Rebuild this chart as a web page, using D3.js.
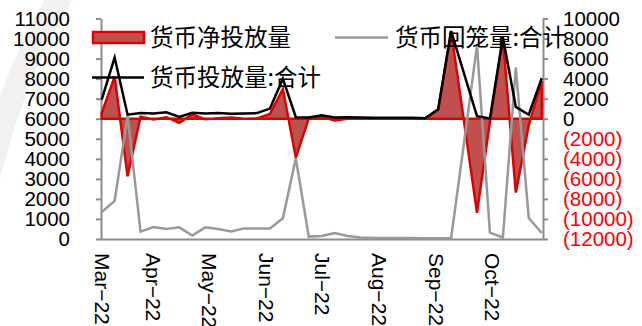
<!DOCTYPE html>
<html>
<head>
<meta charset="utf-8">
<script src="https://cdn.jsdelivr.net/npm/d3@7"></script>
<style>
  html, body { margin: 0; padding: 0; background: #fff; }
  svg { display: block; }
</style>
</head>
<body>
<svg id="chart" width="642" height="326"></svg>
<script>
// Weekly open-market figures (亿元)
const dates = [
  "2022-03-04","2022-03-11","2022-03-18","2022-03-25","2022-04-01","2022-04-08","2022-04-15",
  "2022-04-22","2022-04-29","2022-05-06","2022-05-13","2022-05-20","2022-05-27","2022-06-03",
  "2022-06-10","2022-06-17","2022-06-24","2022-07-01","2022-07-08","2022-07-15","2022-07-22",
  "2022-07-29","2022-08-05","2022-08-12","2022-08-19","2022-08-26","2022-09-02","2022-09-09",
  "2022-09-16","2022-09-23","2022-09-30","2022-10-07","2022-10-14","2022-10-21","2022-10-28"
];
// 货币投放量:合计 (right axis)
const injection = [
  1900, 6100, 400, 580, 520, 650, 180, 600, 520, 560, 500, 520, 560, 1015,
  4000, 150, 120, 350, 120, 150, 120, 100, 100, 100, 100, 50, 950, 8750,
  4500, 250, 30, 8130, 1180, 400, 4050
];
// 货币回笼量:合计 (left axis)
const withdrawal = [
  1350, 1900, 6150, 370, 600, 500, 580, 170, 580, 500, 370, 530, 530, 530,
  1030, 4030, 120, 150, 300, 150, 70, 50, 50, 50, 50, 40, 40, 40,
  4800, 9650, 320, 80, 8550, 1050, 300
];
// 货币净投放量 (right axis)
const netInjection = [
  550, 4200, -5750, 210, -80, 150, -400, 430, -60, 60, 130, -10, 30, 485,
  2970, -3880, 0, 200, -180, 0, 50, 50, 50, 50, 50, 10, 910, 8710,
  -300, -9400, -290, 8050, -7370, -650, 3750
];

const leftTicks = [0, 1000, 2000, 3000, 4000, 5000, 6000, 7000, 8000, 9000, 10000, 11000];
const rightTicks = [10000, 8000, 6000, 4000, 2000, 0, -2000, -4000, -6000, -8000, -10000, -12000];
// month labels: the axis start, then each month start
const monthTicks = ["2022-03-04","2022-04-01","2022-05-01","2022-06-01","2022-07-01","2022-08-01","2022-09-01","2022-10-01"];

const seriesNames = ["货币净投放量", "货币回笼量:合计", "货币投放量:合计"];

const parse = d3.timeParse("%Y-%m-%d");
const points = dates.map((d, i) => ({
  date: parse(d),
  inj: injection[i],
  wd: withdrawal[i],
  net: netInjection[i]
}));

const svg = d3.select("#chart");
const numFont = "'Liberation Sans', Arial, sans-serif";
const cjkFont = "'Noto Sans CJK SC', 'Noto Sans', sans-serif";

const plot = { left: 101, right: 543, top: 18.5, bottom: 239 };

// faint background mark in the upper-left corner
svg.append("path")
  .attr("d", "M -12,178 Q 14,70 66,-12")
  .attr("fill", "none")
  .attr("stroke", "#f1f1f1")
  .attr("stroke-width", 24);

const x = d3.scaleTime()
  .domain(d3.extent(points, d => d.date))
  .range([plot.left + 0.7, plot.right - 1.3]);
const yL = d3.scaleLinear().domain([0, 11000]).range([plot.bottom, plot.top]);
const yR = d3.scaleLinear().domain([-12000, 10000]).range([plot.bottom, plot.top]);

const axisColor = "#8c8c8c";
const plain = d3.format("d");

// x axis
const fmtMon = d3.timeFormat("%b"), fmtYr = d3.timeFormat("%y");
const gx = svg.append("g")
  .attr("transform", `translate(0,${plot.bottom})`)
  .call(d3.axisBottom(x)
    .tickValues(monthTicks.map(parse))
    .tickSize(0)
    .tickFormat(d => fmtMon(d) + "\u2212" + fmtYr(d)));
gx.select(".domain").attr("stroke", axisColor).attr("stroke-width", 2)
  .attr("d", `M${plot.left},0.5H${plot.right}`);
gx.selectAll(".tick text")
  .attr("font-family", numFont)
  .attr("font-size", 21)
  .attr("fill", "#000")
  .attr("text-anchor", "start")
  .attr("transform", "translate(0,14) rotate(90)")
  .attr("x", 0).attr("y", 0).attr("dy", "0.36em");

// left axis
const gl = svg.append("g")
  .attr("transform", `translate(${plot.left},0)`)
  .call(d3.axisLeft(yL).tickValues(leftTicks).tickSize(5).tickPadding(26).tickSizeOuter(0)
    .tickFormat(plain));
gl.select(".domain").attr("stroke", axisColor).attr("stroke-width", 2);
gl.selectAll(".tick line").attr("stroke", axisColor).attr("stroke-width", 2);
gl.selectAll(".tick text")
  .attr("font-family", numFont).attr("font-size", 20.5).attr("fill", "#000");

// right axis, negatives in red brackets
const gr = svg.append("g")
  .attr("transform", `translate(${plot.right},0)`)
  .call(d3.axisRight(yR).tickValues(rightTicks).tickSize(5).tickPadding(15).tickSizeOuter(0)
    .tickFormat(v => v < 0 ? `(${plain(-v)})` : plain(v)));
gr.select(".domain").attr("stroke", axisColor).attr("stroke-width", 2);
gr.selectAll(".tick line").attr("stroke", axisColor).attr("stroke-width", 2);
gr.selectAll(".tick text")
  .attr("font-family", numFont).attr("font-size", 20.5)
  .attr("fill", d => d < 0 ? "#ff0000" : "#000");

// net injection area around the right-axis zero line
const area = d3.area()
  .x(d => x(d.date))
  .y0(yR(0))
  .y1(d => yR(d.net));
svg.append("path")
  .datum(points)
  .attr("d", area)
  .attr("fill", "#c0504d")
  .attr("stroke", "#e00000")
  .attr("stroke-width", 2.5)
  .attr("stroke-linejoin", "miter");

// withdrawals, left axis
svg.append("path")
  .datum(points)
  .attr("d", d3.line().x(d => x(d.date)).y(d => yL(d.wd)))
  .attr("fill", "none")
  .attr("stroke", "#999999")
  .attr("stroke-width", 2.5);

// injections, right axis
svg.append("path")
  .datum(points)
  .attr("d", d3.line().x(d => x(d.date)).y(d => yR(d.inj)))
  .attr("fill", "none")
  .attr("stroke", "#000")
  .attr("stroke-width", 2.5);

// legend
const lg = svg.append("g");
lg.append("rect")
  .attr("x", 93).attr("y", 32).attr("width", 51).attr("height", 11)
  .attr("fill", "#c0504d").attr("stroke", "#e00000").attr("stroke-width", 2.5);
lg.append("text").attr("x", 150).attr("y", 38).attr("dy", "0.35em")
  .attr("font-family", cjkFont).attr("font-size", 23.5).attr("fill", "#000")
  .text(seriesNames[0]);

lg.append("line").attr("x1", 335).attr("x2", 388).attr("y1", 37.5).attr("y2", 37.5)
  .attr("stroke", "#999999").attr("stroke-width", 2.5);
lg.append("text").attr("x", 395).attr("y", 38).attr("dy", "0.35em")
  .attr("font-family", cjkFont).attr("font-size", 23.5).attr("fill", "#000")
  .text(seriesNames[1]);

lg.append("line").attr("x1", 92).attr("x2", 144).attr("y1", 77.5).attr("y2", 77.5)
  .attr("stroke", "#000").attr("stroke-width", 2.5);
lg.append("text").attr("x", 150).attr("y", 78).attr("dy", "0.35em")
  .attr("font-family", cjkFont).attr("font-size", 23.5).attr("fill", "#000")
  .text(seriesNames[2]);
</script>
</body>
</html>
